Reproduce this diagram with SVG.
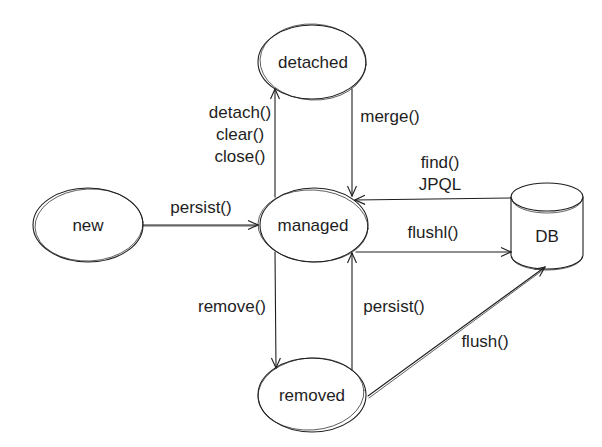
<svg xmlns="http://www.w3.org/2000/svg" width="602" height="447" viewBox="0 0 602 447">
<style>
.s{fill:none;stroke:#1e1e1e;stroke-width:1.1;stroke-linecap:round}
.s2{fill:none;stroke:#1e1e1e;stroke-width:0.7;stroke-linecap:round}
.t{font-family:"Liberation Sans",Arial,sans-serif;font-size:17px;fill:#1e1e1e;text-anchor:middle}
</style>
<defs>
<marker id="ah" viewBox="0 0 12 12" refX="11" refY="6" markerWidth="12" markerHeight="12" markerUnits="userSpaceOnUse" orient="auto">
<polyline points="1,1.5 11,6 1,10.5" fill="none" stroke="#1e1e1e" stroke-width="1.1"/>
</marker>
</defs>
<rect width="602" height="447" fill="#ffffff"/>
<g id="detached">
<ellipse class="s" cx="312" cy="62" rx="54" ry="37"/>
<ellipse class="s2" cx="313" cy="62" rx="53" ry="38" transform="rotate(3 313 62)"/>
<text class="t" x="313" y="68">detached</text>
</g>
<g id="new">
<ellipse class="s" cx="88" cy="225" rx="55" ry="37"/>
<ellipse class="s2" cx="89" cy="225" rx="54" ry="36" transform="rotate(-3 89 225)"/>
<text class="t" x="88" y="231">new</text>
</g>
<g id="managed">
<ellipse class="s" cx="314" cy="225" rx="54" ry="37"/>
<ellipse class="s2" cx="313" cy="226" rx="55" ry="36" transform="rotate(3 313 226)"/>
<text class="t" x="313" y="231">managed</text>
</g>
<g id="removed">
<ellipse class="s" cx="312" cy="395" rx="54" ry="37"/>
<ellipse class="s2" cx="311" cy="394" rx="53" ry="36" transform="rotate(-4 311 394)"/>
<text class="t" x="312" y="401">removed</text>
</g>
<g id="DB">
<path class="s" d="M511,197 L511,255 A36,14 0 0 0 583,255 L583,197"/>
<ellipse class="s" cx="547" cy="197" rx="36" ry="14"/>
<path class="s2" d="M512,199 A35,14 0 0 0 582,199"/>
<path class="s2" d="M512,257 A35,13 0 0 0 582,257"/>
<text class="t" x="547" y="242">DB</text>
</g>
<g id="connectors">
<line class="s" x1="275" y1="197" x2="275" y2="89" marker-end="url(#ah)"/>
<line class="s" x1="352" y1="89" x2="352" y2="196" marker-end="url(#ah)"/>
<line class="s" x1="143" y1="225" x2="258" y2="225" marker-end="url(#ah)"/>
<line class="s2" x1="143" y1="226" x2="256" y2="226"/>
<line class="s" x1="511" y1="198" x2="355" y2="200" marker-end="url(#ah)"/>
<line class="s" x1="356" y1="252" x2="511" y2="252" marker-end="url(#ah)"/>
<line class="s" x1="275" y1="252" x2="276" y2="368" marker-end="url(#ah)"/>
<line class="s" x1="352" y1="370" x2="352" y2="253" marker-end="url(#ah)"/>
<line class="s" x1="368" y1="396" x2="545" y2="267" marker-end="url(#ah)"/>
<line class="s2" x1="369" y1="398" x2="543" y2="270"/>
</g>
<g id="labels">
<text class="t" x="240" y="118">detach()</text>
<text class="t" x="240" y="140">clear()</text>
<text class="t" x="240" y="162">close()</text>
<text class="t" x="390" y="122">merge()</text>
<text class="t" x="440" y="168">find()</text>
<text class="t" x="440" y="190">JPQL</text>
<text class="t" x="433" y="238">flushl()</text>
<text class="t" x="201" y="213">persist()</text>
<text class="t" x="232" y="312">remove()</text>
<text class="t" x="394" y="312">persist()</text>
<text class="t" x="485" y="347">flush()</text>
</g>
</svg>
